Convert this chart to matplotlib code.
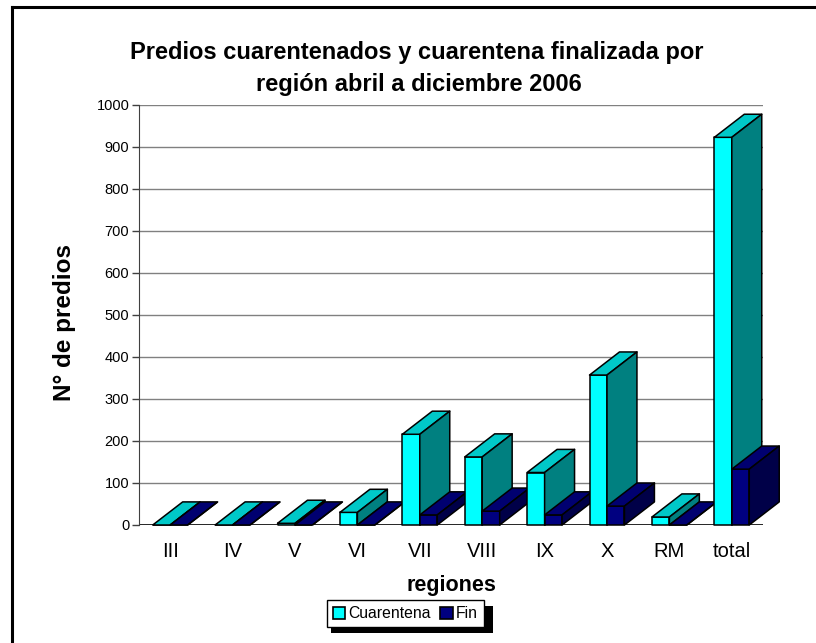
import matplotlib.pyplot as plt
from matplotlib.patches import Polygon, Rectangle, Patch

plt.rcParams['font.family'] = ['Liberation Sans', 'DejaVu Sans']

# data
regiones = ["III", "IV", "V", "VI", "VII", "VIII", "IX", "X", "RM", "total"]
cuarentena = [0, 0, 4, 30, 216, 162, 125, 357, 19, 923]
fin = [0, 0, 0, 0, 24, 33, 24, 45, 0, 133]

# colours (front, top, side)
cyan_faces = ("#00FFFF", "#00C8C8", "#008080")
navy_faces = ("#000080", "#000070", "#000048")

W, H = 816, 643
fig = plt.figure(figsize=(W / 100, H / 100), dpi=100)

# plot area in pixels
x0, x1 = 139, 763
y0, y1 = 525, 105
ax = fig.add_axes([x0 / W, 1 - y0 / H, (x1 - x0) / W, (y0 - y1) / H])
ax.set_xlim(-0.5, 9.5)
ax.set_ylim(0, 1000)

bw = 0.28      # bar width in category units
ddx = 0.48     # depth offset x
ddy = 55       # depth offset y (data units)


def bar3d(ax, x, h, faces):
    front, top, side = faces
    kw = dict(edgecolor="black", linewidth=1.1, clip_on=False, zorder=3, joinstyle="round")
    ax.add_patch(Polygon([(x, 0), (x + bw, 0), (x + bw, h), (x, h)], facecolor=front, **kw))
    ax.add_patch(Polygon([(x, h), (x + bw, h), (x + bw + ddx, h + ddy), (x + ddx, h + ddy)],
                         facecolor=top, **kw))
    ax.add_patch(Polygon([(x + bw, 0), (x + bw + ddx, ddy), (x + bw + ddx, h + ddy), (x + bw, h)],
                         facecolor=side, **kw))


for i in range(len(regiones)):
    bar3d(ax, i - bw, cuarentena[i], cyan_faces)
    bar3d(ax, i, fin[i], navy_faces)

# grid and axes
for v in range(100, 1001, 100):
    ax.axhline(v, color="#808080", linewidth=1.0, zorder=1)
ax.axhline(0, color="black", linewidth=1.2, zorder=2)
for s in ["top", "right", "bottom"]:
    ax.spines[s].set_visible(False)
ax.spines["left"].set_color("#404040")
ax.set_yticks(range(0, 1001, 100))
ax.tick_params(axis="y", direction="out", length=5, width=1, color="#404040",
               labelsize=10.5, pad=2)
ax.set_xticks(range(len(regiones)))
ax.set_xticklabels(regiones, fontsize=14.5)
ax.tick_params(axis="x", length=0, pad=12)
ax.patch.set_alpha(0)

fig.text(65 / W, 1 - 322 / H, "N° de predios", fontsize=17.5, fontweight="bold",
         rotation=90, ha="center", va="center")
fig.text(451 / W, 1 - 586 / H, "regiones", fontsize=15.5, fontweight="bold",
         ha="center", va="center")

# title
fig.text(417 / W, 1 - 52 / H, "Predios cuarentenados y cuarentena finalizada por",
         fontsize=17, fontweight="bold", ha="center", va="center")
fig.text(419 / W, 1 - 84 / H, "región abril a diciembre 2006",
         fontsize=17, fontweight="bold", ha="center", va="center")

# legend with hard black shadow
fig.patches.append(Rectangle((331 / W, 1 - 633 / H), 162 / W, 27 / H, transform=fig.transFigure,
                             facecolor="black", edgecolor="none", zorder=1))
handles = [Patch(facecolor=cyan_faces[0], edgecolor="black", linewidth=1.2),
           Patch(facecolor=navy_faces[0], edgecolor="black", linewidth=1.2)]
leg = fig.legend(handles, ["Cuarentena", "Fin"], loc="center",
                 bbox_to_anchor=(405.5 / W, 1 - 613.5 / H), ncol=2, fontsize=11.3,
                 frameon=True, fancybox=False, handlelength=0.8, handleheight=0.8,
                 handletextpad=0.2, columnspacing=0.6, borderpad=0.4,
                 borderaxespad=0)
leg.get_frame().set_edgecolor("black")
leg.get_frame().set_linewidth(1.0)
leg.get_frame().set_alpha(1)
leg.set_zorder(5)

# outer border (left and top only visible)
fig.add_artist(plt.Line2D([12 / W, 12 / W], [0, 1 - 7 / H], color="black", linewidth=2.2,
                          transform=fig.transFigure))
fig.add_artist(plt.Line2D([12 / W, 1], [1 - 7 / H, 1 - 7 / H], color="black", linewidth=2.2,
                          transform=fig.transFigure))

fig.savefig("out.png", dpi=100)
